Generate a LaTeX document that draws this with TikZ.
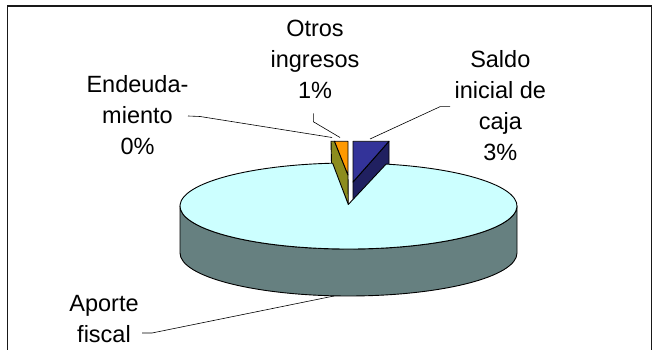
\documentclass[tikz,border=0pt]{standalone}
\usepackage{fontspec}
\setmainfont{Liberation Sans}
\definecolor{topcyan}{HTML}{CCFFFF}
\definecolor{sidegray}{RGB}{102,128,128}
\definecolor{sliceblue}{HTML}{333399}
\definecolor{slicenavy}{RGB}{32,32,96}
\definecolor{sliceorange}{HTML}{FF9900}
\definecolor{sliceolive}{RGB}{140,140,30}
\begin{document}
\begin{tikzpicture}[x=1pt,y=1pt,
  face/.style={draw=black,line width=0.9pt,line join=round},
  lbl/.style={align=center,inner sep=0pt,anchor=north,font=\fontsize{23.5}{31}\selectfont},
  leader/.style={draw=black,line width=0.6pt}]
\useasboundingbox (0,0) rectangle (655,350);
\clip (0,0) rectangle (655,350);
\fill[white] (0,0) rectangle (655,350);
% frame
\draw[line width=1.6pt,draw=black!90] (7.5,344) rectangle (651.5,-10);
% exploded slices (behind main pie)
\path[face,fill=slicenavy] (389,208.7) -- (389,178) -- (353,138) -- (353,168) -- cycle;
\path[face,fill=sliceblue] (353,208.7) -- (389,208.7) -- (353,168) -- cycle;
\path[face,fill=sliceolive] (331,208.7) -- (334.5,208.7) -- (348,175) -- (348.3,145.5) -- (331.5,186.8) -- cycle;
\path[face,fill=sliceorange] (334.5,208.7) -- (348,208.7) -- (348,175) -- cycle;
% main pie side
\path[face,fill=sidegray] (180,144) -- (180,97)
  arc[start angle=180,end angle=360,x radius=168.5pt,y radius=43pt]
  -- (517,144)
  arc[start angle=0,end angle=-180,x radius=168.5pt,y radius=43pt] -- cycle;
% main pie top face with notch
\coordinate (apex) at (348.3,145.5);
\path[face,fill=topcyan] (apex) -- (386.1,185.9)
  arc[start angle=77.1,end angle=-264.6,x radius=168.5pt,y radius=43pt]
  -- cycle;
% labels
\node[lbl] (otros) at (315,330.2) {Otros\\ingresos\\1\%};
\node[lbl] (endeu) at (137.5,274.6) {Endeuda-\\miento\\0\%};
\node[lbl] (saldo) at (500.3,300.2) {Saldo\\inicial de\\caja\\3\%};
\node[lbl] (aporte) at (104,55.2) {Aporte\\fiscal};
% leader lines
\coordinate (e0) at (188,234);
\coordinate (e1) at (200,233.5);
\coordinate (e2) at (332,212.5);
\coordinate (o0) at (313.3,236.7);
\coordinate (o1) at (313.3,228.3);
\coordinate (o2) at (340,212.5);
\coordinate (s0) at (450,243.3);
\coordinate (s1) at (440,243.3);
\coordinate (s2) at (370,211);
\coordinate (a0) at (142,17);
\coordinate (a1) at (152,17);
\coordinate (a2) at (334,54);
\path[leader] (e0) -- (e1) -- (e2);
\path[leader] (o0) -- (o1) -- (o2);
\path[leader] (s0) -- (s1) -- (s2);
\path[leader] (a0) -- (a1) -- (a2);
\end{tikzpicture}
\end{document}
